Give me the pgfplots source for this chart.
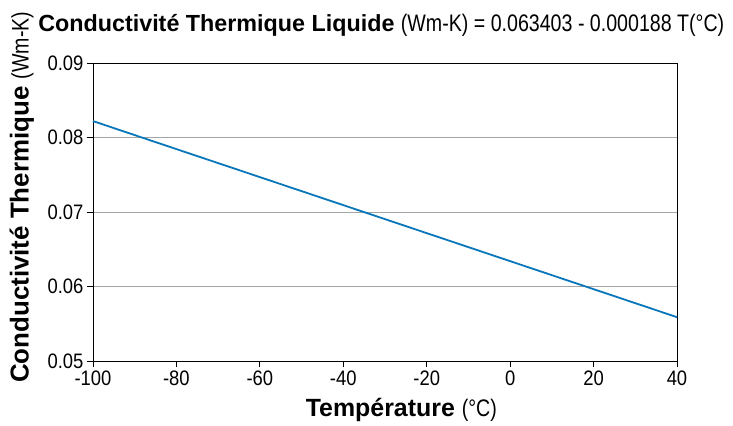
\documentclass[border=0pt]{standalone}
\usepackage{fontspec}
\setmainfont{Liberation Sans}
\newfontfamily\cond[FakeStretch=0.88]{Liberation Sans}
\newfontfamily\condb[FakeStretch=0.82]{Liberation Sans}
\usepackage{pgfplots}
\pgfplotsset{compat=1.18}
\definecolor{lineblue}{RGB}{8,118,186}
\definecolor{gridgray}{RGB}{165,165,165}
\begin{document}
\begin{tikzpicture}
\begin{axis}[
  scale only axis,
  width=584bp, height=298bp,
  xmin=-100, xmax=40, ymin=0.05, ymax=0.09,
  xtick={-100,-80,...,40},
  ytick={0.05,0.06,0.07,0.08,0.09},
  scaled y ticks=false,
  yticklabel style={/pgf/number format/fixed,/pgf/number format/precision=2,/pgf/number format/fixed zerofill},
  /pgf/number format/assume math mode=true,
  ticklabel style={font=\cond\fontsize{21}{23}\selectfont},
  xtick pos=bottom, ytick pos=left,
  tick align=outside,
  tick style={black, line width=0.8pt},
  major tick length=6bp,
  axis line style={black, line width=0.8pt},
  ymajorgrids,
  grid style={gridgray, line width=0.9pt},
  clip=false,
]
\addplot[lineblue, line width=1.8pt] coordinates {
(-100,0.082203) (-80,0.078443) (-60,0.074683) (-40,0.070923)
(-20,0.067163) (0,0.063403) (20,0.059643) (40,0.055883)
};
\node[anchor=base west, inner sep=0pt] at (rel axis cs:-0.094,1.107)
  {\fontsize{23.4}{25}\selectfont\bfseries Conductivité Thermique Liquide\ \mdseries\condb\fontsize{24}{26}\selectfont (Wm-K) = 0.063403 - 0.000188 T(°C)};
\node[rotate=90, anchor=center, inner sep=0pt] at (rel axis cs:-0.122,0.549)
  {\fontsize{26}{28}\selectfont\bfseries Conductivité Thermique \mdseries\condb\fontsize{24}{26}\selectfont(Wm-K)};
\node[anchor=center, inner sep=0pt] at (rel axis cs:0.528,-0.163)
  {\fontsize{25}{27}\selectfont\bfseries Température \mdseries\condb\fontsize{24}{26}\selectfont(°C)};
\path (rel axis cs:-0.1592,-0.2181) rectangle (rel axis cs:1.0959,1.2114);
\end{axis}
\end{tikzpicture}
\end{document}
